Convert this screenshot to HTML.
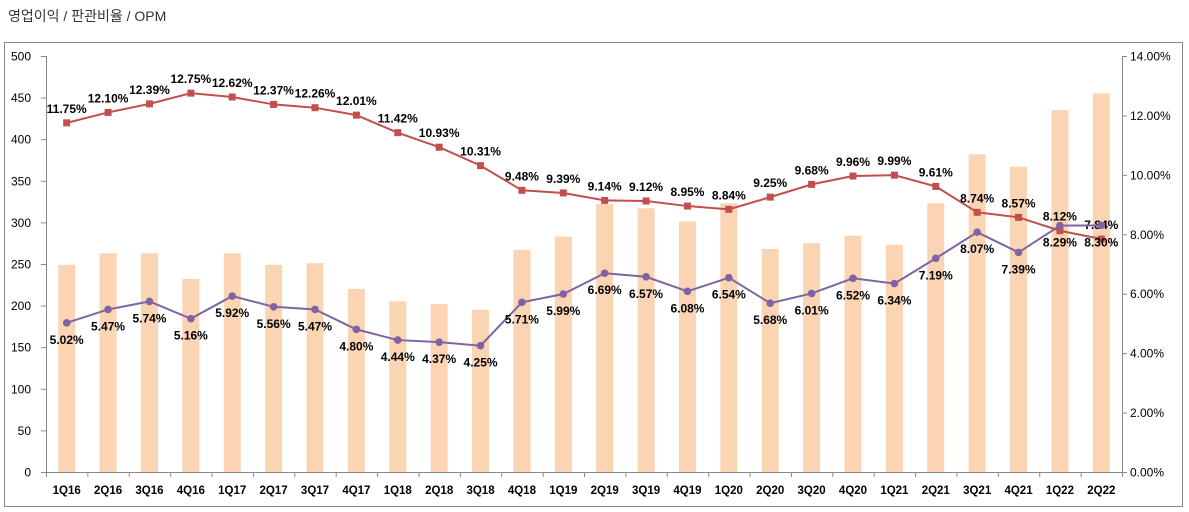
<!DOCTYPE html>
<html><head><meta charset="utf-8"><style>
body{margin:0;background:#fff;width:1189px;height:512px;overflow:hidden;font-family:"Liberation Sans","Noto Sans CJK KR",sans-serif}
#title{position:absolute;left:8px;top:6px;font-size:14px;color:#333}
#frame{position:absolute;left:4px;top:42px;width:1179px;height:465px;border:1px solid #888;box-sizing:border-box}
svg{position:absolute;left:0;top:0}
</style></head><body>
<div id="title">영업이익 / 판관비율 / OPM</div>
<div id="frame"></div>
<svg id="chart" width="1189" height="512"></svg>
<script>
const categories=["1Q16","2Q16","3Q16","4Q16","1Q17","2Q17","3Q17","4Q17","1Q18","2Q18","3Q18","4Q18","1Q19","2Q19","3Q19","4Q19","1Q20","2Q20","3Q20","4Q20","1Q21","2Q21","3Q21","4Q21","1Q22","2Q22"];
const profit=[249,263,263,232,263,249,251,220,205,202,195,267,283,322,317,301,323,268,275,284,273,323,382,367,435,455];
const sgaRatio=[11.75,12.10,12.39,12.75,12.62,12.37,12.26,12.01,11.42,10.93,10.31,9.48,9.39,9.14,9.12,8.95,8.84,9.25,9.68,9.96,9.99,9.61,8.74,8.57,8.12,7.84];
const opm=[5.02,5.47,5.74,5.16,5.92,5.56,5.47,4.80,4.44,4.37,4.25,5.71,5.99,6.69,6.57,6.08,6.54,5.68,6.01,6.52,6.34,7.19,8.07,7.39,8.29,8.30];
const leftTicks=[0,50,100,150,200,250,300,350,400,450,500];
const rightTicks=[0,2,4,6,8,10,12,14];

const svg=document.getElementById('chart');
const NS='http://www.w3.org/2000/svg';
const X0=46,X1=1122,Y0=472,Y1=56;
const step=(X1-X0)/categories.length;
const xs=i=>X0+step*(i+0.5);
const yL=v=>Y0-(v/500)*(Y0-Y1);
const yR=v=>Y0-(v/14)*(Y0-Y1);
function mk(tag,attrs,parent){const e=document.createElementNS(NS,tag);for(const k in attrs)e.setAttribute(k,attrs[k]);(parent||svg).appendChild(e);return e;}
function txt(s,x,y,anchor,size,weight){const t=mk('text',{x:x,y:y,'text-anchor':anchor,'font-size':size,'font-weight':weight||'normal',fill:'#000','font-family':'Liberation Sans, sans-serif'});t.textContent=s;return t;}

// bars
profit.forEach((v,i)=>{
  const r=mk('rect',{x:xs(i)-8.5,y:yL(v),width:17,height:Y0-yL(v),fill:'#FBD4B4'});
  
  
});
// axes
const ax=mk('g',{stroke:'#888','stroke-width':1});


mk('line',{x1:X0+0.5,y1:Y1,x2:X0+0.5,y2:Y0},ax);
mk('line',{x1:X1+0.5,y1:Y1,x2:X1+0.5,y2:Y0},ax);
mk('line',{x1:X0,y1:Y0+0.5,x2:X1,y2:Y0+0.5},ax);
leftTicks.forEach(v=>{mk('line',{x1:X0-5,y1:yL(v)+0.5,x2:X0,y2:yL(v)+0.5},ax);
  const t=txt(String(v),31,yL(v)+4.5,'end',12);
  
  });
rightTicks.forEach(v=>{mk('line',{x1:X1,y1:yR(v)+0.5,x2:X1+5,y2:yR(v)+0.5},ax);
  const t=txt(v.toFixed(2)+'%',1130,yR(v)+4.5,'start',12);
  
  });
categories.forEach((c,i)=>{mk('line',{x1:X0+step*i+0.5,y1:Y0,x2:X0+step*i+0.5,y2:Y0+5},ax);
  const t=txt(c,xs(i),494,'middle',11.5,'bold');
  
  });
mk('line',{x1:X1+0.5,y1:Y0,x2:X1+0.5,y2:Y0+5},ax);

function series(vals,color,marker,name,dy){
  const pts=vals.map((v,i)=>xs(i)+','+yR(v)).join(' ');
  const pl=mk('polyline',{points:pts,fill:'none',stroke:color,'stroke-width':2});
  
  
  vals.forEach((v,i)=>{
    let m;
    if(marker==='sq') m=mk('rect',{x:xs(i)-3.5,y:yR(v)-3.5,width:7,height:7,fill:color});
    else m=mk('circle',{cx:xs(i),cy:yR(v),r:3.8,fill:color});
    
    
    const t=txt(v.toFixed(2)+'%',xs(i),yR(v)+dy,'middle',12,'bold');
    
    
  });
}
series(sgaRatio,'#C0504D','sq','sga-ratio',-10);
series(opm,'#8064A2','ci','opm',21);
</script>
</body></html>
